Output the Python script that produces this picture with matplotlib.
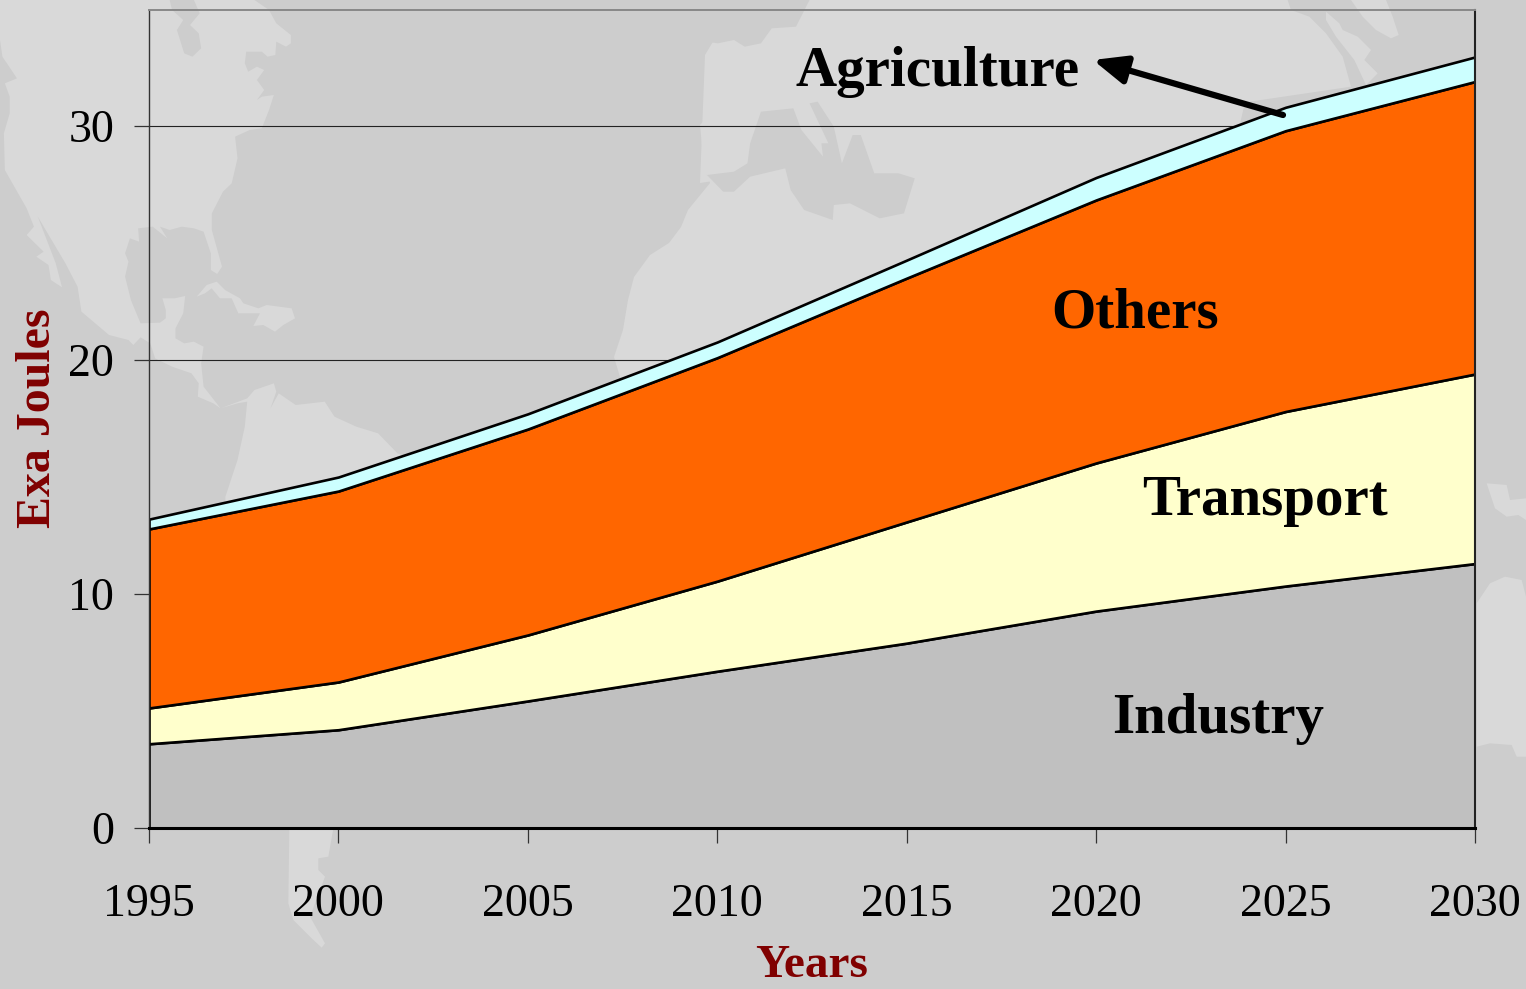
import matplotlib
matplotlib.use('Agg')
import matplotlib.pyplot as plt
from matplotlib.patches import Polygon

years = [1995, 2000, 2005, 2010, 2015, 2020, 2025, 2030]
industry = [3.6, 4.2, 5.43, 6.7, 7.9, 9.27, 10.34, 11.3]
transport = [1.53, 2.04, 2.82, 3.85, 5.18, 6.33, 7.46, 8.1]
others = [7.65, 8.16, 8.8, 9.55, 10.42, 11.24, 12.0, 12.5]
agriculture = [0.42, 0.6, 0.65, 0.67, 0.77, 0.96, 1.0, 1.05]
band_colors = ['#c0c0c0', '#ffffcc', '#ff6600', '#ccffff']
y_ticks = [0, 10, 20, 30]

LAND = '#d9d9d9'
SEA = '#cdcdcd'

plt.rcParams['font.family'] = ['Liberation Serif', 'DejaVu Serif']


def crop(points, sx, sy, ox=0, oy=0):
    return [(x / sx + ox, y / sy + oy) for x, y in points]


americas = crop([(0, 120), (5, 170), (35, 235), (10, 250), (20, 290), (20, 340), (8, 400), (10, 510),
                 (55, 625), (70, 680), (55, 705), (90, 755), (75, 770), (100, 795), (105, 840), (128, 862),
                 (115, 790), (78, 650), (135, 790), (160, 860), (168, 935), (225, 1005), (265, 1020),
                 (275, 1035), (290, 1012), (310, 1030), (320, 1075), (355, 1100), (395, 1120), (410, 1150),
                 (408, 1190), (440, 1210), (455, 1225), (490, 1210), (510, 1205), (505, 1280), (490, 1380),
                 (465, 1490), (465, 1700), (700, 2300), (1000, 1900), (1100, 1500), (820, 1360), (780, 1300),
                 (735, 1280), (690, 1250), (670, 1205), (610, 1215), (575, 1180), (558, 1225), (570, 1175),
                 (565, 1150), (525, 1170), (510, 1195), (455, 1225), (420, 1160), (415, 1090), (420, 1040),
                 (400, 1025), (380, 1030), (362, 1015), (362, 985), (378, 940), (382, 888), (360, 895),
                 (335, 895), (342, 930), (342, 955), (330, 968), (290, 970), (270, 900), (258, 830),
                 (265, 785), (258, 760), (268, 715), (287, 725), (285, 685), (315, 680), (345, 715),
                 (330, 680), (350, 690), (375, 680), (400, 685), (420, 695), (435, 760), (435, 810),
                 (448, 822), (458, 800), (437, 690), (437, 640), (460, 575), (478, 550), (490, 475),
                 (485, 410), (515, 390), (540, 385), (555, 330), (565, 285), (540, 290), (530, 300),
                 (545, 270), (530, 240), (545, 210), (530, 200), (512, 215), (505, 190), (508, 155),
                 (540, 155), (552, 170), (568, 165), (570, 125), (590, 140), (600, 130), (600, 105),
                 (570, 70), (555, 30), (525, 0), (300, 0), (0, 0)], 2.063, 3)
bay = crop([(355, 30), (378, 60), (365, 90), (380, 160), (397, 170), (415, 145), (410, 100),
            (392, 75), (412, 40), (400, 0), (350, 0)], 2.063, 3)
cuba = crop([(290, 290), (320, 255), (350, 245), (375, 270), (420, 295), (430, 310), (475, 325),
             (500, 315), (575, 325), (585, 355), (550, 375), (525, 395), (490, 375), (460, 378),
             (480, 340), (415, 340), (395, 295), (360, 295), (335, 265), (315, 280)], 3, 3, 100, 200)
tail = crop([(1000, 145), (985, 230), (955, 235), (955, 270), (975, 290), (930, 410), (975, 490),
             (965, 503), (935, 475), (880, 420), (865, 370), (868, 145)], 3, 3, 0, 780)
eurafrica = [(705, 55), (735, 65), (735, 80), (745, 90), (742, 107), (712, 112), (700, 125), (703, 157),
             (708, 175), (710, 183), (688, 210), (681, 227), (669, 243), (650, 255), (634, 277), (628, 300),
             (623, 330), (614, 357), (620, 377), (700, 500), (1200, 300), (1250, 80)]
europe_top = [(700, 183), (1226 + 375 / 3, 260 / 3), (1226 + 350 / 3, 170 / 3), (1226 + 300 / 3, 100 / 3),
              (1226 + 250 / 3, 50 / 3), (1226 + 195 / 3, 10), (1226 + 185 / 3, 0), (740, 0), (720, 30), (705, 55)]
kamchatka = crop([(300, 35), (340, 70), (350, 90), (395, 110), (435, 150), (415, 180), (455, 220),
                  (420, 255), (385, 180), (330, 110), (300, 60)], 3, 3, 1226, 0)
peninsula = crop([(375, 0), (410, 50), (450, 90), (495, 115), (518, 105), (500, 50), (480, 0)], 3, 3, 1226, 0)
med = crop([(50, 525), (100, 515), (125, 490), (130, 430), (150, 335), (210, 325), (225, 390), (265, 470),
            (262, 430), (275, 430), (240, 310), (255, 305), (285, 380), (300, 490), (320, 405), (335, 405),
            (360, 520), (405, 520), (435, 535), (415, 640), (370, 655), (315, 610), (285, 615), (283, 660),
            (230, 630), (205, 570), (195, 505), (130, 530), (100, 575), (80, 575)], 1.853, 3, 680, 0)
baltic = crop([(65, 30), (85, 0), (240, 0), (215, 80), (170, 85), (150, 130), (120, 140), (100, 120),
               (70, 130), (50, 125), (65, 85)], 1.853, 3, 680, 0)
patch_a = crop([(320, 130), (380, 135), (390, 180), (438, 175), (438, 240), (415, 225), (380, 230), (345, 205)],
               3, 3, 1380, 440)
patch_b = crop([(290, 490), (330, 430), (375, 410), (425, 420), (438, 470), (438, 950), (410, 950), (395, 915),
                (330, 910), (290, 920)], 3, 3, 1380, 440)

fig = plt.figure(figsize=(15.26, 9.89), dpi=100, facecolor=SEA)

bg = fig.add_axes([0, 0, 1, 1], zorder=0)
bg.set_xlim(0, 1526)
bg.set_ylim(989, 0)
bg.axis('off')
for shape in [americas, cuba, tail, eurafrica, europe_top, kamchatka, peninsula, patch_a, patch_b]:
    bg.add_patch(Polygon(shape, closed=True, facecolor=LAND, edgecolor='none'))
for shape in [bay, med, baltic]:
    bg.add_patch(Polygon(shape, closed=True, facecolor=SEA, edgecolor='none'))

ax = fig.add_axes([149 / 1526, 161 / 989, 1326 / 1526, 818 / 989], zorder=1)
ax.patch.set_alpha(0)
ax.set_xlim(years[0], years[-1])
ax.set_ylim(0, 818 / 23.4)

ax.yaxis.grid(True, color='#222222', lw=0.8)
ax.set_axisbelow(True)
ax.stackplot(years, industry, transport, others, agriculture, colors=band_colors,
             edgecolor='black', linewidth=1.9, zorder=2)

ax.set_xticks(years)
ax.set_yticks(y_ticks)
ax.tick_params(axis='x', length=11, width=0.9, color='#333333', labelsize=33, pad=29)
ax.tick_params(axis='y', length=11, width=0.9, color='#333333', labelsize=33, pad=14)
ax.spines['left'].set(color='#333333', linewidth=1.0)
ax.spines['bottom'].set(color='black', linewidth=2.2)
ax.spines['right'].set(color='#222222', linewidth=1.5)
ax.spines['top'].set(color='#888888', linewidth=1.4)

for label, x, y in [('Others', 1135, 313), ('Transport', 1265, 501),
                    ('Industry', 1218, 719), ('Agriculture', 938, 72)]:
    ax.text(x, y, label, transform=bg.transData, ha='center', va='center',
            fontsize=41, fontweight='bold', color='black', zorder=5)

ax.annotate('', xy=(1093, 60), xytext=(1283, 115), xycoords=bg.transData, textcoords=bg.transData,
            arrowprops=dict(arrowstyle='-|>,head_length=2.0,head_width=0.85', color='black', lw=4.5,
                            shrinkA=0, shrinkB=0), zorder=6)

bg.text(812, 987, 'Years', ha='center', va='bottom', fontsize=34, fontweight='bold', color='#800000')
bg.text(38, 418, 'Exa Joules', ha='center', va='center', rotation=90, fontsize=34.5, fontweight='bold',
        color='#800000')

fig.savefig('out.png', dpi=100, facecolor=fig.get_facecolor())
